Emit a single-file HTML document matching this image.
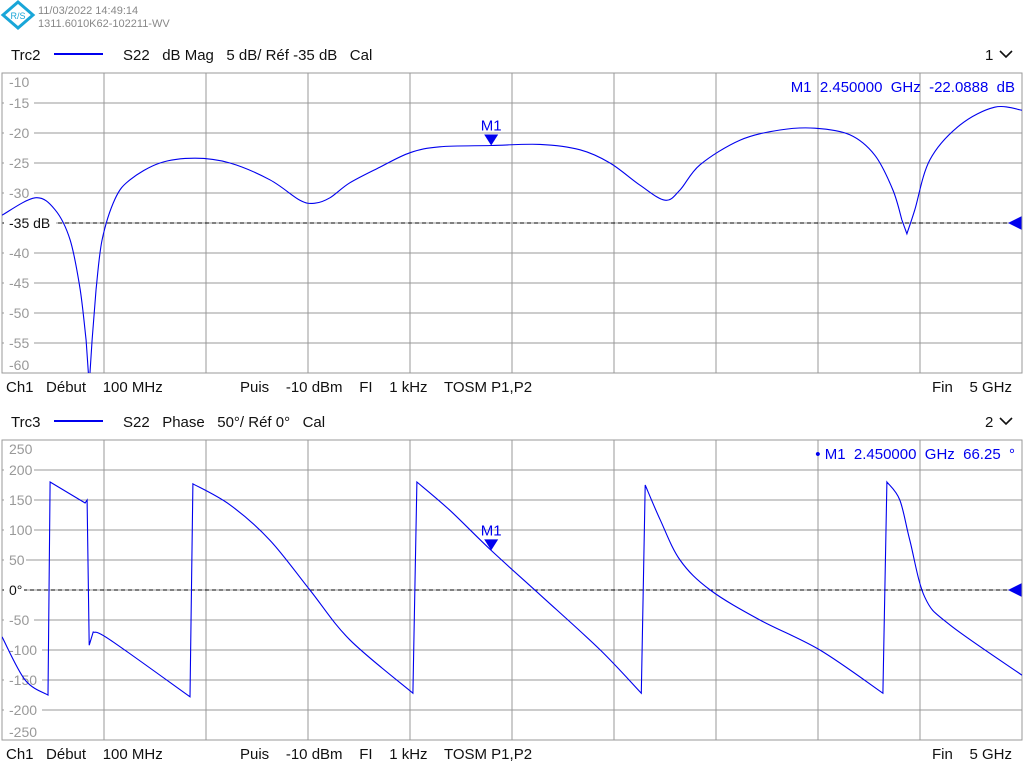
<!DOCTYPE html>
<html><head><meta charset="utf-8"><style>
body{margin:0;background:#fff;width:1024px;height:768px;overflow:hidden;font-family:"Liberation Sans",sans-serif}
svg{display:block}
text{white-space:pre}
</style></head><body>
<svg id="chart" width="1024" height="768" viewBox="0 0 1024 768" font-family="Liberation Sans, sans-serif">
<g>
<polygon points="18,2 33,15 18,28 3,15" fill="none" stroke="#19a6d8" stroke-width="3"/>
<text x="18" y="19" font-size="9" fill="#19a6d8" text-anchor="middle">R/S</text>
</g>
<text x="38" y="14" font-size="11" fill="#888">11/03/2022 14:49:14</text>
<text x="38" y="27" font-size="11" fill="#888">1311.6010K62-102211-WV</text>

<g font-size="15" fill="#111">
<text x="11" y="60">Trc2</text>
<line x1="54" y1="54" x2="103" y2="54" stroke="#0000ee" stroke-width="2"/>
<text x="123" y="60">S22   dB Mag   5 dB/ Réf -35 dB   Cal</text>
<text x="985" y="60">1</text>
<polyline points="1000,51 1006,57 1012,51" fill="none" stroke="#111" stroke-width="1.6"/>
</g>
<g font-size="15" fill="#111">
<text x="11" y="427">Trc3</text>
<line x1="54" y1="421" x2="103" y2="421" stroke="#0000ee" stroke-width="2"/>
<text x="123" y="427">S22   Phase   50°/ Réf 0°   Cal</text>
<text x="985" y="427">2</text>
<polyline points="1000,418 1006,424 1012,418" fill="none" stroke="#111" stroke-width="1.6"/>
</g>
<g id="p1"></g>
<g id="p2"></g>
<g font-size="15" fill="#111">
<text x="6" y="392">Ch1   Début    100 MHz</text>
<text x="240" y="392">Puis    -10 dBm    FI    1 kHz    TOSM P1,P2</text>
<text x="932" y="392">Fin    5 GHz</text>
</g>
<g font-size="15" fill="#111">
<text x="6" y="759">Ch1   Début    100 MHz</text>
<text x="240" y="759">Puis    -10 dBm    FI    1 kHz    TOSM P1,P2</text>
<text x="932" y="759">Fin    5 GHz</text>
</g>
</svg>
<script>
const magFreqGHz=[0.1,0.259,0.355,0.427,0.475,0.504,0.519,0.533,0.552,0.581,0.643,0.715,0.859,1.027,1.195,1.387,1.531,1.603,1.675,1.771,1.915,2.059,2.203,2.450,2.685,2.877,3.021,3.165,3.285,3.357,3.453,3.645,3.837,4.005,4.173,4.293,4.380,4.423,4.447,4.485,4.557,4.701,4.869,5.0];
const magDb=[-33.7,-30.8,-32.8,-37.8,-46,-54.5,-62,-54.5,-46,-37.8,-31,-27.8,-25,-24.2,-25,-27.8,-31.2,-31.7,-30.8,-28.3,-25.7,-23.3,-22.3,-22.09,-21.9,-22.8,-25,-28.7,-31.2,-29.5,-25.3,-21.2,-19.5,-19.2,-20.3,-23.7,-29.5,-34.5,-36.8,-32.8,-24.5,-18.7,-15.7,-16.2];
const phFreqGHz=[0.1,0.211,0.321,0.331,0.499,0.509,0.519,0.538,0.619,1.003,1.017,1.195,1.387,1.579,1.771,2.074,2.093,2.251,2.450,2.685,2.974,3.171,3.190,3.262,3.357,3.502,3.741,4.029,4.332,4.351,4.413,4.461,4.533,4.653,5.0];
const phDeg=[-78,-150,-175,180,145,150,-92,-70,-83,-178,177,142,83,0,-83,-172,180,133,66,-8,-100,-172,175,117,50,0,-50,-100,-172,180,150,83,-12,-58,-142];
const magTicks=[-10,-15,-20,-25,-30,-35,-40,-45,-50,-55,-60];
const phTicks=[250,200,150,100,50,0,-50,-100,-150,-200,-250];
const markerFreq=2.45;

const NS='http://www.w3.org/2000/svg';
const L=2,R=1022,F0=0.1,F1=5.0;
const xs=f=>L+(f-F0)/(F1-F0)*(R-L);
function mk(tag,attrs,parent){const e=document.createElementNS(NS,tag);for(const k in attrs)e.setAttribute(k,attrs[k]);parent.appendChild(e);return e;}
function interp(fa,va,f){for(let i=1;i<fa.length;i++){if(f<=fa[i]){const t=(f-fa[i-1])/(fa[i]-fa[i-1]);return va[i-1]+t*(va[i]-va[i-1]);}}return va[va.length-1];}
function smoothPath(P){
  // Catmull-Rom to bezier, linear across near-vertical jumps
  let d='M'+P[0][0].toFixed(1)+','+P[0][1].toFixed(1);
  const jump=(a,b)=>Math.abs(b[0]-a[0])<6;
  for(let i=0;i<P.length-1;i++){
    const p1=P[i],p2=P[i+1];
    if(jump(p1,p2)){d+='L'+p2[0].toFixed(1)+','+p2[1].toFixed(1);continue;}
    const p0=(i>0&&!jump(P[i-1],p1))?P[i-1]:p1;
    const p3=(i+2<P.length&&!jump(p2,P[i+2]))?P[i+2]:p2;
    const c1=[p1[0]+(p2[0]-p0[0])/6,p1[1]+(p2[1]-p0[1])/6];
    const c2=[p2[0]-(p3[0]-p1[0])/6,p2[1]-(p3[1]-p1[1])/6];
    d+='C'+c1.map(v=>v.toFixed(1)).join(',')+' '+c2.map(v=>v.toFixed(1)).join(',')+' '+p2[0].toFixed(1)+','+p2[1].toFixed(1);
  }
  return d;
}

function panel(g,top,bot,ticks,ys,fa,va,refLabel,refVal,mkText){
  for(let i=1;i<10;i++){const x=L+i*(R-L)/10;
    const ln=mk('line',{x1:x,y1:top,x2:x,y2:bot,stroke:'#999','stroke-width':1},g);
    
    }
  ticks.forEach((t,i)=>{const y=ys(t);
    if(i>0&&i<ticks.length-1){const ln=mk('line',{x1:L,y1:y,x2:R,y2:y,stroke:'#999','stroke-width':1},g);
      
      }
    if(t===refVal)return;
    const ly=i===0?y+14:(i===ticks.length-1?y-3:y+5);
    const w=String(t).length*8+6;
    if(i>0&&i<ticks.length-1)mk('rect',{x:L+2,y:y-8,width:w,height:16,fill:'#fff'},g);
    const tx=mk('text',{x:L+7,y:ly,'font-size':14,fill:'#999'},g);tx.textContent=t;
    
    
  });
  const ry=ys(refVal);
  const rl=mk('line',{x1:L,y1:ry,x2:R,y2:ry,stroke:'#000','stroke-width':1,'stroke-dasharray':'4,3'},g);
  
  
  mk('rect',{x:L+2,y:ry-8,width:refLabel.length*8+4,height:16,fill:'#fff'},g);
  const rt=mk('text',{x:L+7,y:ry+5,'font-size':14,fill:'#111'},g);rt.textContent=refLabel;
  
  
  const rp=mk('polygon',{points:`${R-14},${ry} ${R},${ry-7} ${R},${ry+7}`,fill:'#0000ee'},g);
  
  
  const frame=mk('rect',{x:L,y:top,width:R-L,height:bot-top,fill:'none',stroke:'#999','stroke-width':1},g);
  
  
  const cp=mk('clipPath',{id:'c'+top},g);
  mk('rect',{x:L,y:top,width:R-L,height:bot-top},cp);
  const P=fa.map((f,i)=>[xs(f),ys(va[i])]);
  const tr=mk('path',{d:smoothPath(P),fill:'none',stroke:'#0000ee','stroke-width':1.1,'clip-path':`url(#c${top})`},g);
  
  
  const mx=xs(markerFreq),my=ys(interp(fa,va,markerFreq));
  const tri=mk('polygon',{points:`${mx-7},${my-11} ${mx+7},${my-11} ${mx},${my}`,fill:'#0000ee'},g);
  
  
  const ml=mk('text',{x:mx,y:my-15,'font-size':15,fill:'#0000ee','text-anchor':'middle'},g);ml.textContent='M1';
  
  
  const mt=mk('text',{x:1015,y:top+19,'font-size':15,fill:'#0000ee','text-anchor':'end'},g);mt.textContent=mkText;
  
  
}
const p1=document.getElementById('p1'),p2=document.getElementById('p2');
panel(p1,73,373,magTicks,v=>73+(-10-v)*6,magFreqGHz,magDb,'-35 dB',-35,'M1  2.450000  GHz  -22.0888  dB');
panel(p2,440,740,phTicks,v=>440+(250-v)*0.6,phFreqGHz,phDeg,'0°',0,'• M1  2.450000  GHz  66.25  °');
</script>
</body></html>
